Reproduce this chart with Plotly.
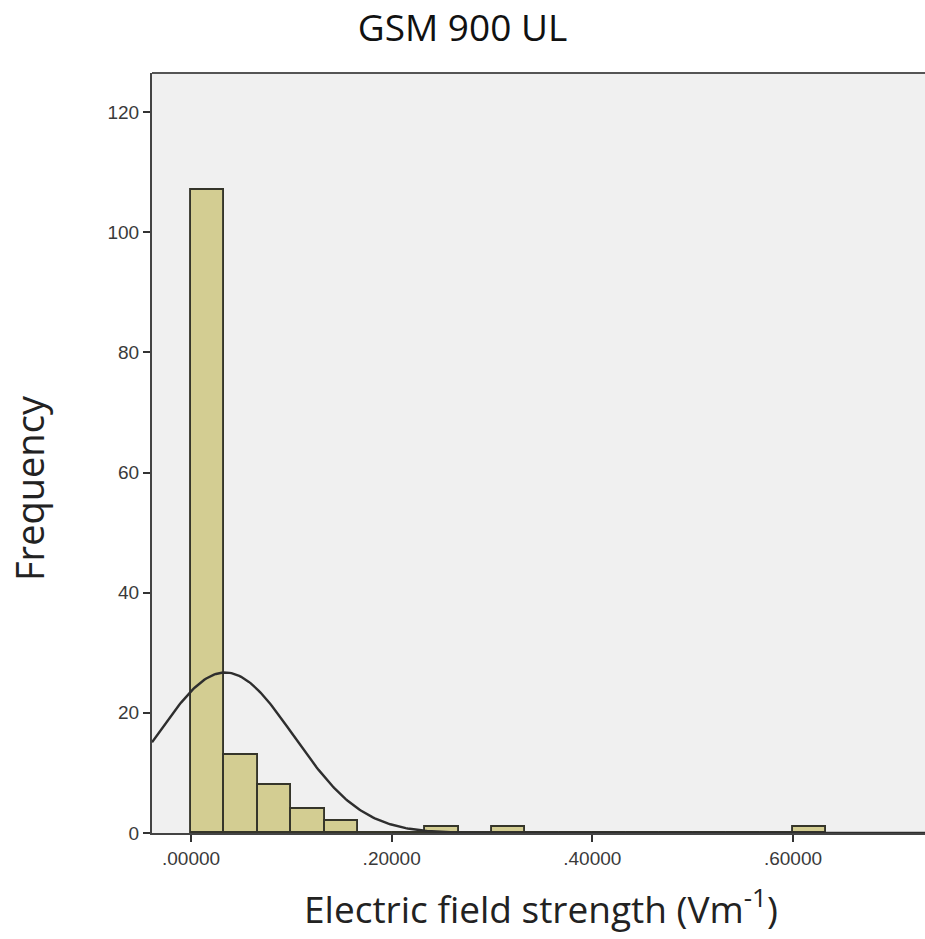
import numpy as np
import plotly.graph_objects as go

# Histogram data
bin_start = 0.0
bin_width = 1.0 / 30.0
bin_counts = [107, 13, 8, 4, 2, 0, 0, 1, 0, 1, 0, 0, 0, 0, 0, 0, 0, 0, 1]

# Fitted normal curve parameters (estimated)
curve_mean = 0.034
curve_sd = 0.0682
n_total = sum(bin_counts)

x_tick_vals = [0.0, 0.2, 0.4, 0.6]
x_tick_text = [".00000", ".20000", ".40000", ".60000"]
y_tick_vals = [0, 20, 40, 60, 80, 100, 120]

x_range = [-0.0389, 0.7316]
y_range = [0, 126.5]

centers = [bin_start + bin_width * (i + 0.5) for i in range(len(bin_counts))]

fig = go.Figure()
fig.add_trace(go.Bar(
    x=centers, y=bin_counts, width=bin_width,
    marker=dict(color="#d3cd92", line=dict(color="#35352a", width=1.9)),
    hoverinfo="x+y", showlegend=False,
))

xc = np.linspace(x_range[0], x_range[1], 400)
yc = n_total * bin_width / (curve_sd * np.sqrt(2 * np.pi)) * np.exp(-0.5 * ((xc - curve_mean) / curve_sd) ** 2)
fig.add_trace(go.Scatter(x=xc, y=yc, mode="lines",
                         line=dict(color="#2e2e2e", width=2.4), showlegend=False))

tick_font = dict(family="Liberation Sans", size=19, color="#3a3a3a")

fig.update_layout(
    width=925, height=939,
    margin=dict(l=152, r=0, t=73, b=106),
    paper_bgcolor="white", plot_bgcolor="#f0f0f0",
    bargap=0,
    title=dict(text="GSM 900 UL", x=0.5, xref="container", xanchor="center",
               y=1 - 28 / 939, yref="container", yanchor="middle",
               font=dict(family="Open Sans", size=37, color="#111111")),
    xaxis=dict(range=x_range, tickvals=x_tick_vals, ticktext=x_tick_text,
               ticks="outside", ticklen=7, tickwidth=1.5, tickcolor="#333",
               showline=True, linecolor="#444", linewidth=2, mirror=False,
               showgrid=False, zeroline=False, tickfont=tick_font),
    yaxis=dict(range=y_range, tickvals=y_tick_vals,
               ticks="outside", ticklen=7, tickwidth=1.5, tickcolor="#333",
               showline=True, linecolor="#444", linewidth=2,
               showgrid=False, zeroline=False, tickfont=tick_font),
    shapes=[dict(type="line", xref="paper", yref="paper", x0=0, x1=1, y0=1, y1=1,
                 line=dict(color="#555", width=2))],
    annotations=[
        dict(text="Electric field strength (Vm<sup>-1</sup>)", xref="paper", yref="paper",
             x=(541 - 152) / 773, y=(833 - 906) / 760, xanchor="center", yanchor="middle",
             showarrow=False, font=dict(family="Open Sans", size=37, color="#222")),
        dict(text="Frequency", xref="paper", yref="paper",
             x=(29 - 152) / 773, y=(833 - 488) / 760, xanchor="center", yanchor="middle",
             textangle=-90, showarrow=False,
             font=dict(family="Open Sans", size=38, color="#222")),
    ],
)

fig.write_html("out.html")
